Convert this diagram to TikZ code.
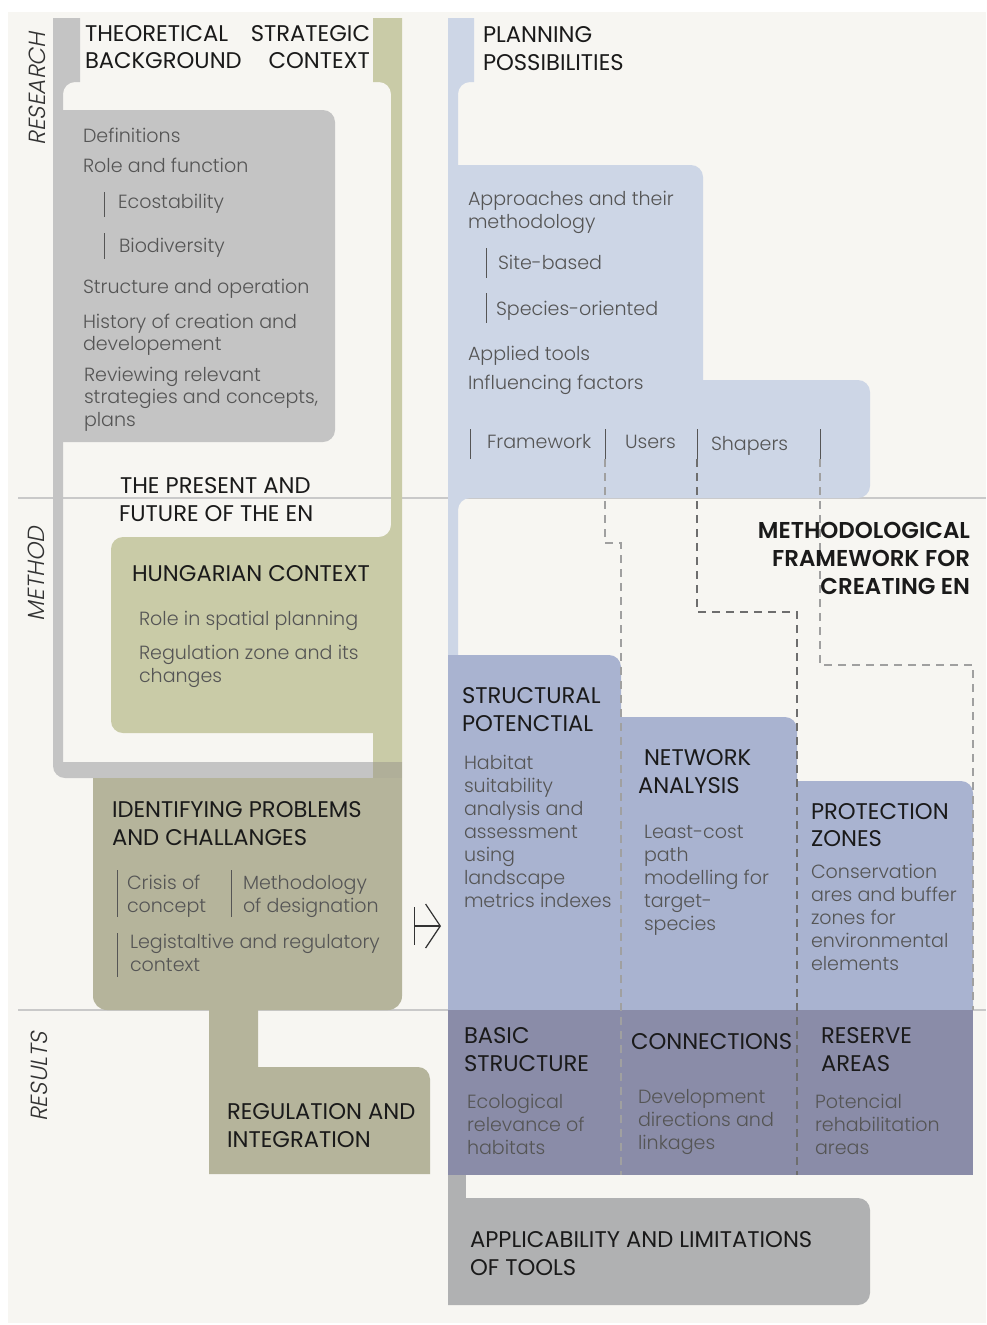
\documentclass[tikz,border=0pt]{standalone}
\usepackage{fontspec}
\setmainfont{Poppins}
\newfontfamily\plight{Poppins Light}
\newfontfamily\pslant{Poppins Light}[FakeSlant=0.2]
\newfontfamily\pmedium{Poppins SemiBold}
\usetikzlibrary{arrows.meta}
\definecolor{cf7f6f2}{RGB}{247,246,242}
\definecolor{cc4c4c4}{RGB}{196,196,196}
\definecolor{cc9cba7}{RGB}{201,203,167}
\definecolor{cb5b49b}{RGB}{181,180,155}
\definecolor{ccdd6e6}{RGB}{205,214,230}
\definecolor{ca9b3d0}{RGB}{169,179,208}
\definecolor{c8a8ca8}{RGB}{138,140,168}
\definecolor{cb0b1b2}{RGB}{176,177,178}
\definecolor{cc9c9c9}{RGB}{201,201,201}
\definecolor{c555555}{RGB}{85,85,85}
\definecolor{c1a1a1a}{RGB}{26,26,26}
\definecolor{c333333}{RGB}{51,51,51}
\definecolor{c6e6e6e}{RGB}{110,110,110}
\definecolor{ca0a0a0}{RGB}{160,160,160}
\definecolor{cb0af99}{RGB}{176,175,153}
\def \globalscale {1.000000}

\begin{document}
\begin{tikzpicture}[y=0.75pt, x=0.75pt, yscale=\globalscale, xscale=\globalscale, every node/.append style={scale=\globalscale}, inner sep=0pt, outer sep=0pt,
  headtext/.style={anchor=base west, text=c1a1a1a, font=\fontsize{17}{20}\selectfont},
  boldtext/.style={anchor=base east, text=c1a1a1a, font=\pmedium\fontsize{17.2}{20}\selectfont},
  bodytext/.style={anchor=base west, text=c555555, font=\plight\fontsize{14.3}{17}\selectfont},
  sidetext/.style={rotate=90, anchor=base, text=c333333, font=\pslant\fontsize{17.5}{20}\selectfont},
  barline/.style={draw=c555555, line width=0.7pt},
  dashlink/.style={draw=ca0a0a0, line width=0.8pt, dash pattern=on 6pt off 4.5pt},
  dashlinkdark/.style={draw=c6e6e6e, line width=0.8pt, dash pattern=on 6pt off 4.5pt},
  maparrow/.style={draw=c333333, line width=0.9pt, {Bar[width=28pt, line width=0.9pt]}-{Straight Barb[length=11pt, width=33pt, line width=0.9pt]}}]
  \useasboundingbox (0,0) rectangle (986,-1325);



  \path[fill=white] (0,0) rectangle (986,-1325);



  \path[fill=cf7f6f2] (8,-12) rectangle (986,-1323);



  \path[draw=cc9c9c9,line width=0.8pt] (18,-498) -- (986,-498);



  \path[draw=cc9c9c9,line width=0.8pt] (18,-1010) -- (986,-1010);



  \path[fill=cc4c4c4] (53,-18) -- (80,-18) -- (80,-82) -- (75,-82) arc[start angle=90, end angle=180, radius=12] -- (63,-762) -- (373,-762) -- (373,-778) -- (65,-778) arc[start angle=270, end angle=180, radius=12] -- cycle;



  \path[fill=cc9cba7] (373,-18) -- (402,-18) -- (402,-762) -- (373,-762) -- (373,-733) -- (123,-733) arc[start angle=270, end angle=180, radius=12] -- (111,-549) arc[start angle=180, end angle=90, radius=12] -- (379,-537) arc[start angle=270, end angle=360, radius=12] -- (391,-94) arc[start angle=0, end angle=90, radius=12] -- (373,-82) -- cycle;



  \path[fill=cc4c4c4] (53,-110) -- (323,-110) arc[start angle=90, end angle=0, radius=12] -- (335,-430) arc[start angle=0, end angle=-90, radius=12] -- (53,-442) -- cycle;



  \path[fill=cb5b49b] (93,-778) -- (373,-778) -- (373,-762) -- (402,-762) -- (402,-996) arc[start angle=0, end angle=-90, radius=14] -- (107,-1010) arc[start angle=270, end angle=180, radius=14] -- cycle;



  \path[fill=cb0af99] (373,-762) rectangle (402,-778);



  \path[fill=cb5b49b] (209,-1000) -- (258,-1000) -- (258,-1067) -- (418,-1067) arc[start angle=90, end angle=0, radius=12] -- (430,-1174) -- (209,-1174) -- cycle;



  \path[fill=ccdd6e6] (448,-18) -- (474,-18) -- (474,-82) -- (470,-82) arc[start angle=90, end angle=180, radius=12] -- (458,-165) -- (691,-165) arc[start angle=90, end angle=0, radius=12] -- (703,-380) -- (858,-380) arc[start angle=90, end angle=0, radius=12] -- (870,-486) arc[start angle=0, end angle=-90, radius=12] -- (470,-498) arc[start angle=90, end angle=180, radius=12] -- (458,-655) -- (448,-655) -- cycle;



  \path[fill=ca9b3d0] (448,-655) -- (609,-655) arc[start angle=90, end angle=0, radius=12] -- (621,-1010) -- (448,-1010) -- cycle;



  \path[fill=ca9b3d0] (621,-717) -- (785,-717) arc[start angle=90, end angle=0, radius=12] -- (797,-1010) -- (621,-1010) -- cycle;



  \path[fill=ca9b3d0] (797,-781) -- (961,-781) arc[start angle=90, end angle=0, radius=12] -- (973,-1010) -- (797,-1010) -- cycle;



  \path[fill=c8a8ca8] (448,-1010) rectangle (973,-1175);



  \path[fill=cb0b1b2] (448,-1175) rectangle (466,-1198);



  \path[fill=cb0b1b2] (448,-1198) -- (858,-1198) arc[start angle=90, end angle=0, radius=12] -- (870,-1293) arc[start angle=0, end angle=-90, radius=12] -- (448,-1305) -- cycle;



  \path[barline] (104,-192) -- (104,-217);
  \path[barline] (104,-233) -- (104,-259);
  \path[barline] (486,-248) -- (486,-278);
  \path[barline] (486,-293) -- (486,-323);
  \path[barline] (117,-870) -- (117,-917);
  \path[barline] (231,-870) -- (231,-917);
  \path[barline] (117,-933) -- (117,-977);



  \coordinate (barframework) at (470,-429);
  \coordinate (barusers) at (605,-429);
  \coordinate (barshapers) at (697,-429);
  \coordinate (barend) at (820,-429);
  \coordinate (barusersfoot) at (605,-459);
  \coordinate (barshapersfoot) at (697,-459);
  \coordinate (barendfoot) at (820,-459);
  \path[barline] (barframework) -- ++(0,-30);
  \path[barline] (barusers) -- (barusersfoot);
  \path[barline] (barshapers) -- (barshapersfoot);
  \path[barline] (barend) -- (barendfoot);



  \coordinate (turnstructural) at (621,-543);
  \coordinate (footstructural) at (621,-1175);
  \coordinate (turnnetwork) at (797,-612);
  \coordinate (footnetwork) at (797,-1175);
  \coordinate (turnprotection) at (973,-665);
  \coordinate (footprotection) at (973,-1010);
  \draw[dashlink] (barusersfoot) |- (turnstructural) -- (footstructural);
  \draw[dashlinkdark] (barshapersfoot) |- (turnnetwork) -- (footnetwork);
  \draw[dashlink] (barendfoot) |- (turnprotection) -- (footprotection);



  \coordinate (arrowtail) at (414,-926);
  \coordinate (arrowtip) at (441,-926);
  \draw[maparrow] (arrowtail) -- (arrowtip);



  \begin{scope}
    \node[sidetext] (textresearch) at (45,-89){RESEARCH};
    \node[sidetext] (textmethod) at (44,-574){METHOD};
    \node[sidetext] (textresults) at (47,-1077){RESULTS};
  \end{scope}



  \begin{scope}
    \node[headtext] (texttheoretical) at (85,-41){THEORETICAL};
    \node[headtext] (textbackground) at (85,-68){BACKGROUND};
    \node[headtext,anchor=base east] (textstrategic) at (370,-41){STRATEGIC};
    \node[headtext,anchor=base east] (textcontext) at (370,-68){CONTEXT};
    \node[headtext] (textplanning) at (483,-42){PLANNING};
    \node[headtext] (textpossibilities) at (483,-70){POSSIBILITIES};
  \end{scope}



  \begin{scope}
    \node[bodytext] (textdefinitions) at (83,-142){Definitions};
    \node[bodytext] (textrole) at (83,-172){Role and function};
    \node[bodytext] (textecostability) at (118,-208){Ecostability};
    \node[bodytext] (textbiodiversity) at (119,-252){Biodiversity};
    \node[bodytext] (textstructureop) at (83,-293){Structure and operation};
    \node[bodytext] (texthistory) at (83,-328){History of creation and};
    \node[bodytext] (texthistorytwo) at (83,-350){developement};
    \node[bodytext] (textreviewing) at (84,-381){Reviewing relevant};
    \node[bodytext] (textreviewingtwo) at (84,-403){strategies and concepts,};
    \node[bodytext] (textreviewingthree) at (84,-426){plans};
  \end{scope}



  \begin{scope}
    \node[headtext] (textpresent) at (120,-493){THE PRESENT AND};
    \node[headtext] (textpresenttwo) at (119,-521){FUTURE OF THE EN};
    \node[headtext] (texthungarian) at (132,-581){HUNGARIAN CONTEXT};
    \node[bodytext] (textspatial) at (139,-625){Role in spatial planning};
    \node[bodytext] (textzone) at (139,-659){Regulation zone and its};
    \node[bodytext] (textzonetwo) at (139,-682){changes};
  \end{scope}



  \begin{scope}
    \node[headtext] (textidentifying) at (112,-817){IDENTIFYING PROBLEMS};
    \node[headtext] (textidentifyingtwo) at (112,-845){AND CHALLANGES};
    \node[bodytext] (textcrisis) at (127,-889){Crisis of};
    \node[bodytext] (textcrisistwo) at (127,-912){concept};
    \node[bodytext] (textdesignation) at (243,-889){Methodology};
    \node[bodytext] (textdesignationtwo) at (243,-912){of designation};
    \node[bodytext] (textlegislative) at (130,-948){Legistaltive and regulatory};
    \node[bodytext] (textlegislativetwo) at (130,-971){context};
  \end{scope}



  \begin{scope}
    \node[headtext] (textregulation) at (227,-1119){REGULATION AND};
    \node[headtext] (textregulationtwo) at (227,-1147){INTEGRATION};
  \end{scope}



  \begin{scope}
    \node[bodytext] (textapproaches) at (468,-205){Approaches and their};
    \node[bodytext] (textapproachestwo) at (468,-228){methodology};
    \node[bodytext] (textsite) at (498,-269){Site-based};
    \node[bodytext] (textspecies) at (496,-315){Species-oriented};
    \node[bodytext] (texttools) at (468,-360){Applied tools};
    \node[bodytext] (textfactors) at (468,-389){Influencing factors};
    \node[bodytext] (textframework) at (487,-448){Framework};
    \node[bodytext] (textusers) at (625,-448){Users};
    \node[bodytext] (textshapers) at (711,-450){Shapers};
  \end{scope}



  \begin{scope}
    \node[boldtext] (textmethodological) at (970,-538){METHODOLOGICAL};
    \node[boldtext] (textmethodologicaltwo) at (970,-566){FRAMEWORK FOR};
    \node[boldtext] (textmethodologicalthree) at (970,-594){CREATING EN};
  \end{scope}



  \begin{scope}
    \node[headtext] (textstructural) at (462,-703){STRUCTURAL};
    \node[headtext] (textstructuraltwo) at (462,-731){POTENCTIAL};
    \node[bodytext] (texthabitat) at (464,-769){Habitat};
    \node[bodytext] (texthabitattwo) at (464,-792){suitability};
    \node[bodytext] (texthabitatthree) at (464,-815){analysis and};
    \node[bodytext] (texthabitatfour) at (464,-838){assessment};
    \node[bodytext] (texthabitatfive) at (464,-861){using};
    \node[bodytext] (texthabitatsix) at (464,-884){landscape};
    \node[bodytext] (texthabitatseven) at (464,-907){metrics indexes};
  \end{scope}



  \begin{scope}
    \node[headtext] (textnetwork) at (644,-765){NETWORK};
    \node[headtext] (textnetworktwo) at (638,-793){ANALYSIS};
    \node[bodytext] (textleast) at (644,-838){Least-cost};
    \node[bodytext] (textleasttwo) at (644,-861){path};
    \node[bodytext] (textleastthree) at (644,-884){modelling for};
    \node[bodytext] (textleastfour) at (644,-907){target-};
    \node[bodytext] (textleastfive) at (644,-930){species};
  \end{scope}



  \begin{scope}
    \node[headtext] (textprotection) at (811,-819){PROTECTION};
    \node[headtext] (textprotectiontwo) at (811,-846){ZONES};
    \node[bodytext] (textconservation) at (811,-878){Conservation};
    \node[bodytext] (textconservationtwo) at (811,-901){ares and buffer};
    \node[bodytext] (textconservationthree) at (811,-924){zones for};
    \node[bodytext] (textconservationfour) at (811,-947){environmental};
    \node[bodytext] (textconservationfive) at (811,-970){elements};
  \end{scope}



  \begin{scope}
    \node[headtext] (textbasic) at (464,-1043){BASIC};
    \node[headtext] (textbasictwo) at (464,-1071){STRUCTURE};
    \node[bodytext] (textecological) at (467,-1108){Ecological};
    \node[bodytext] (textecologicaltwo) at (467,-1131){relevance of};
    \node[bodytext] (textecologicalthree) at (467,-1154){habitats};
  \end{scope}



  \begin{scope}
    \node[headtext] (textconnections) at (631,-1049){CONNECTIONS};
    \node[bodytext] (textdevelopment) at (638,-1103){Development};
    \node[bodytext] (textdevelopmenttwo) at (638,-1126){directions and};
    \node[bodytext] (textdevelopmentthree) at (638,-1149){linkages};
  \end{scope}



  \begin{scope}
    \node[headtext] (textreserve) at (821,-1043){RESERVE};
    \node[headtext] (textreservetwo) at (821,-1071){AREAS};
    \node[bodytext] (textpotencial) at (815,-1108){Potencial};
    \node[bodytext] (textpotencialtwo) at (815,-1131){rehabilitation};
    \node[bodytext] (textpotencialthree) at (815,-1154){areas};
  \end{scope}



  \begin{scope}
    \node[headtext] (textapplicability) at (470,-1247){APPLICABILITY AND LIMITATIONS};
    \node[headtext] (textapplicabilitytwo) at (470,-1275){OF TOOLS};
  \end{scope}

\end{tikzpicture}
\end{document}
